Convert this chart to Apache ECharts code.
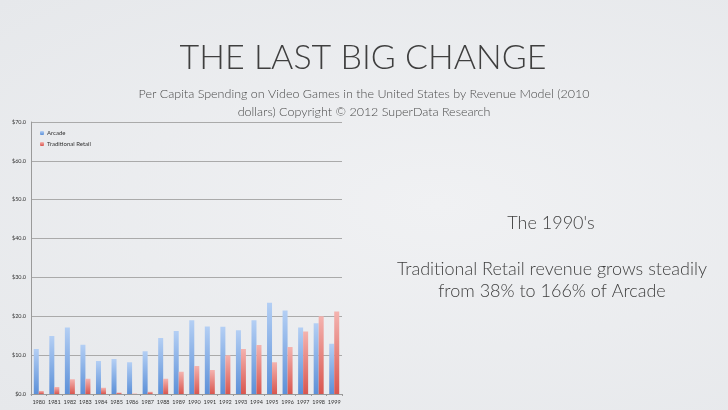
<!DOCTYPE html>
<html>
<head>
<meta charset="utf-8">
<script src="https://cdn.jsdelivr.net/npm/echarts@6/dist/echarts.min.js"></script>
<style>
  html, body { margin: 0; padding: 0; }
  body { background: radial-gradient(ellipse at 60% 50%, #f0f1f3 0%, #e6e8eb 100%); }
  #chart { width: 728px; height: 410px; }
</style>
</head>
<body>
<div id="chart"></div>
<script>
// years on the x axis
let years = ['1980', '1981', '1982', '1983', '1984', '1985', '1986', '1987', '1988', '1989',
             '1990', '1991', '1992', '1993', '1994', '1995', '1996', '1997', '1998', '1999']
// per capita spending, 2010 dollars
let arcade = [11.6, 14.9, 17.1, 12.7, 8.5, 9.0, 8.2, 11.0, 14.4, 16.2,
              19.0, 17.4, 17.3, 16.4, 19.0, 23.5, 21.5, 17.1, 18.2, 12.9]
let retail = [0.8, 1.8, 3.8, 3.9, 1.6, 0.4, 0.1, 0.6, 3.9, 5.7,
              7.2, 6.2, 10.0, 11.6, 12.6, 8.2, 12.1, 16.1, 20.0, 21.2]
let seriesNames = ['Arcade', 'Traditional Retail']

let font = 'Lato, "Open Sans", sans-serif'

let chart = echarts.init(document.getElementById('chart'))
let option = {
    backgroundColor: 'transparent',
    title: [
        {
            text: 'THE LAST BIG CHANGE',
            left: 358, top: 36, textAlign: 'center',
            textStyle: { fontFamily: font, fontWeight: 300, fontSize: 34, color: '#3f3f3f' }
        },
        {
            text: 'Per Capita Spending on Video Games in the United States by Revenue Model (2010\ndollars) Copyright © 2012 SuperData Research',
            left: 359, top: 80, textAlign: 'center',
            textStyle: { fontFamily: font, fontWeight: 300, fontSize: 12.5, lineHeight: 18, color: '#4a4a4a', align: 'center' }
        },
        {
            text: "The 1990's",
            left: 546, top: 209, textAlign: 'center',
            textStyle: { fontFamily: font, fontWeight: 300, fontSize: 18, color: '#3f3f3f' }
        },
        {
            text: 'Traditional Retail revenue grows steadily\nfrom 38% to 166% of Arcade',
            left: 547, top: 253, textAlign: 'center',
            textStyle: { fontFamily: font, fontWeight: 300, fontSize: 18, lineHeight: 22, color: '#3f3f3f', align: 'center' }
        }
    ],
    legend: {
        orient: 'vertical',
        left: 35, top: 125,
        itemWidth: 4, itemHeight: 4, itemGap: 5,
        data: seriesNames,
        textStyle: { fontFamily: font, fontSize: 6, color: '#333', padding: [0, 0, 0, -2] }
    },
    grid: { left: 31, right: 386, top: 122, bottom: 16, containLabel: false },
    xAxis: {
        type: 'category',
        data: years,
        axisLine: { lineStyle: { color: '#9a9a9a', width: 1 } },
        axisTick: { show: true, alignWithLabel: false, length: 2, lineStyle: { color: '#9a9a9a' } },
        axisLabel: { fontFamily: font, fontSize: 5.5, color: '#333', margin: 5, interval: 0 }
    },
    yAxis: {
        type: 'value',
        min: 0, max: 70, interval: 10,
        axisLine: { show: true, lineStyle: { color: '#9a9a9a', width: 1 } },
        axisTick: { show: false },
        splitLine: { lineStyle: { color: '#aaaaaa', width: 1 } },
        axisLabel: {
            fontFamily: font, fontSize: 5.5, color: '#333', margin: 5,
            formatter: function (v) { return '$' + v.toFixed(1) }
        }
    },
    series: [
        {
            name: seriesNames[0],
            type: 'bar',
            data: arcade,
            barWidth: 5,
            barGap: '0%',
            itemStyle: {
                color: new echarts.graphic.LinearGradient(0, 0, 0, 1, [
                    { offset: 0, color: '#b4cff4' },
                    { offset: 1, color: '#5c90d8' }
                ])
            }
        },
        {
            name: seriesNames[1],
            type: 'bar',
            data: retail,
            barWidth: 5,
            itemStyle: {
                color: new echarts.graphic.LinearGradient(0, 0, 0, 1, [
                    { offset: 0, color: '#f4b3af' },
                    { offset: 1, color: '#d9564f' }
                ])
            }
        }
    ]
}
chart.setOption(option)
</script>
</body>
</html>
